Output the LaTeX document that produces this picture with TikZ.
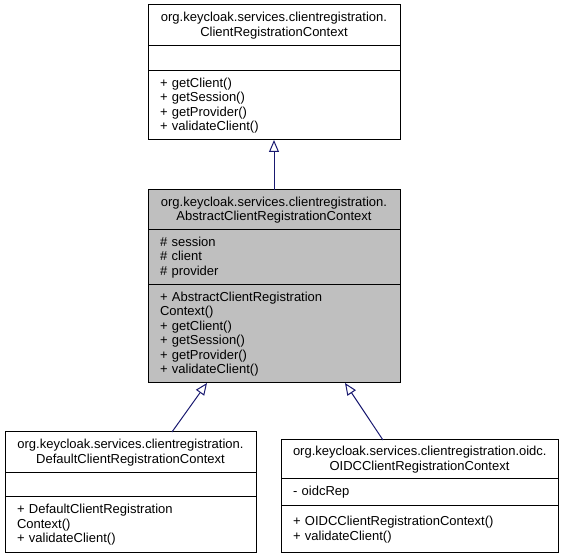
\documentclass[tikz,border=0pt]{standalone}
\usepackage{fontspec}
\setmainfont{Liberation Sans}
\usetikzlibrary{positioning,arrows.meta}
\definecolor{edgeblue}{RGB}{25,25,112}
\definecolor{absgray}{RGB}{191,191,191}
\tikzset{
  cpart/.style args={#1,#2}{
  draw=black,
  line width=0.75pt,
  text width=#1,
  minimum height=#2,
  inner xsep=9pt,
  inner ysep=0pt,
  outer sep=0pt,
  align=left,
  font=\fontsize{9.75pt}{10.9pt}\selectfont
  },
  ctitle/.style args={#1,#2}{cpart={#1,#2},align=center},
  inherit/.style={draw=edgeblue,line width=0.75pt,
   -{Triangle[length=9pt,width=7.5pt,fill=white]}}
}
\begin{document}
\begin{tikzpicture}[x=0.75pt,y=-0.75pt]
  \useasboundingbox (0,0) rectangle (565,559);

  % interface
  \node [ctitle={171pt,30.75pt},anchor=north] (ctx) at (274,5)
    {org.keycloak.services.clientregistration.\\ClientRegistrationContext};
  \node [cpart={171pt,18.75pt},below=0pt of ctx] (ctx attr) {};
  \node [cpart={171pt,51.75pt},below=0pt of ctx attr] (ctx ops)
    {+ getClient()\\+ getSession()\\+ getProvider()\\+ validateClient()};

  % abstract class
  \node [ctitle={171pt,30pt},fill=absgray,anchor=north] (abs) at (274,190)
    {org.keycloak.services.clientregistration.\\AbstractClientRegistrationContext};
  \node [cpart={171pt,41.25pt},fill=absgray,below=0pt of abs] (abs attr)
    {\# session\\\# client\\\# provider};
  \node [cpart={171pt,73.5pt},fill=absgray,below=0pt of abs attr] (abs ops)
    {+ AbstractClientRegistration\\Context()\\+ getClient()\\+ getSession()\\+ getProvider()\\+ validateClient()};

  % subclasses
  \node [ctitle={170.25pt,30.75pt},anchor=north] (dflt) at (130.5,432)
    {org.keycloak.services.clientregistration.\\DefaultClientRegistrationContext};
  \node [cpart={170.25pt,18pt},below=0pt of dflt] (dflt attr) {};
  \node [cpart={170.25pt,42pt},below=0pt of dflt attr] (dflt ops)
    {+ DefaultClientRegistration\\Context()\\+ validateClient()};

  \node [ctitle={189.75pt,29.25pt},anchor=north] (oidc) at (419.5,440)
    {org.keycloak.services.clientregistration.oidc.\\OIDCClientRegistrationContext};
  \node [cpart={189.75pt,20.25pt},below=0pt of oidc] (oidc attr) {- oidcRep};
  \node [cpart={189.75pt,35.25pt},below=0pt of oidc attr] (oidc ops)
    {+ OIDCClientRegistrationContext()\\+ validateClient()};

  \draw [inherit] (abs.north) -- (ctx ops.south);
  \draw [inherit] ([xshift=31.1pt]dflt.north) -- ([xshift=-50.25pt]abs ops.south);
  \draw [inherit] ([xshift=-27.4pt]oidc.north) -- ([xshift=53.25pt]abs ops.south);

\end{tikzpicture}
\end{document}
